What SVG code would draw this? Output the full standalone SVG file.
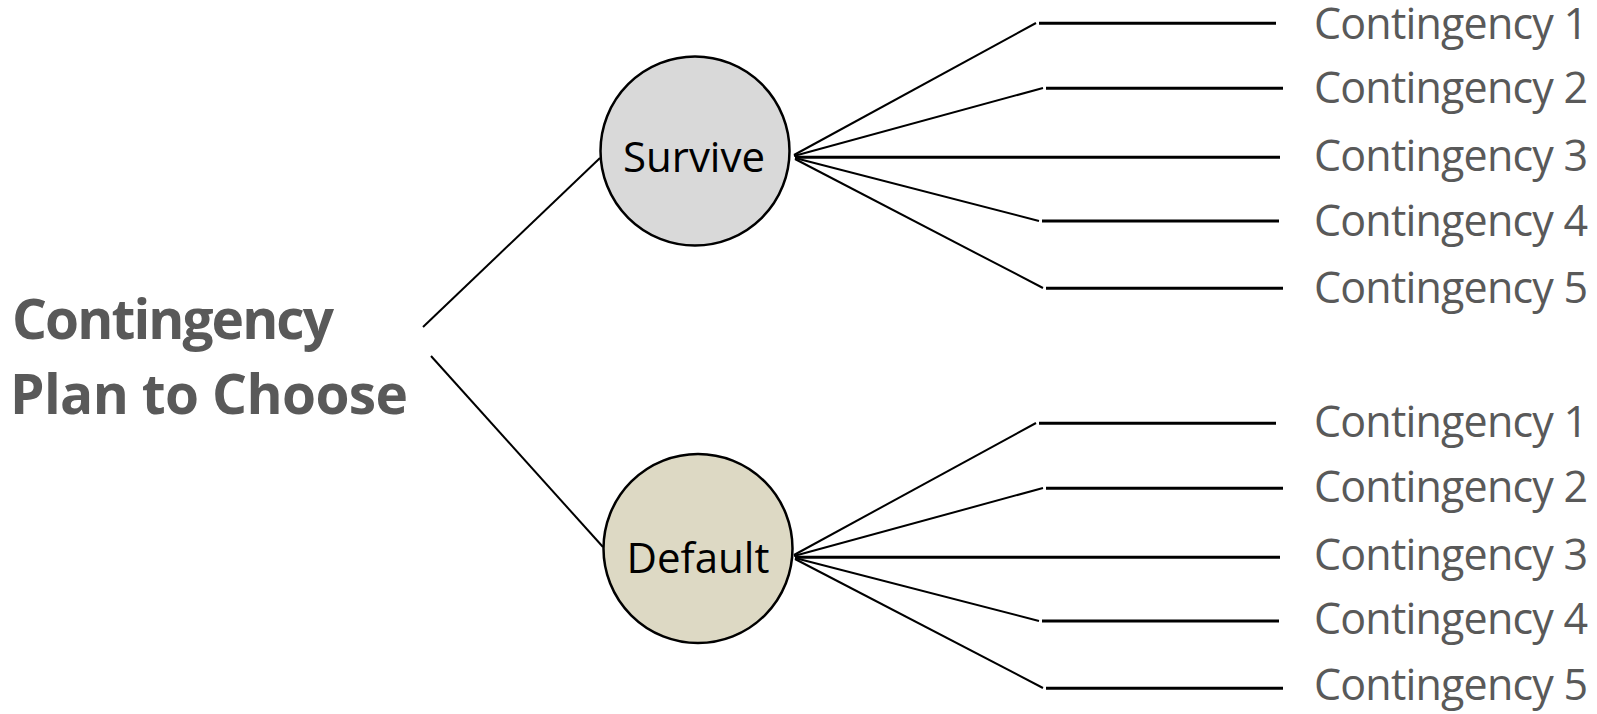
<svg xmlns="http://www.w3.org/2000/svg" width="1597" height="714" viewBox="0 0 1597 714">
<style>
.bg{fill:#ffffff}
.node{stroke:#000000;stroke-width:2.5}
.survive{fill:#D9D9D9}
.default{fill:#DDD9C4}
.ntext{font-family:"Open Sans","Noto Sans",sans-serif;font-size:42px;fill:#000000;text-anchor:middle}
.label{font-family:"Open Sans","Noto Sans",sans-serif;font-size:43px;fill:#595959}
.title{font-family:"Open Sans","Noto Sans",sans-serif;font-size:55px;font-weight:bold;fill:#595959}
.diag{stroke:#000000;stroke-width:2;fill:none}
.hor{stroke:#000000;stroke-width:3;fill:none}
</style>
<rect class="bg" x="0" y="0" width="1597" height="714"/>
<g id="connectors">
  <line class="diag" x1="423" y1="327" x2="600" y2="158"/>
  <line class="diag" x1="431" y1="356" x2="603" y2="547"/>
  <g id="survive-branches">
    <line class="diag" x1="794" y1="155" x2="1036" y2="23"/>
    <line class="diag" x1="794" y1="156" x2="1043" y2="88"/>
    <line class="diag" x1="795" y1="158" x2="1039" y2="221"/>
    <line class="diag" x1="795" y1="159" x2="1043" y2="288"/>
    <line class="hor" x1="1039" y1="23.3" x2="1276" y2="23.3"/>
    <line class="hor" x1="1046" y1="88.3" x2="1283" y2="88.3"/>
    <line class="hor" x1="795" y1="157.3" x2="1280" y2="157.3"/>
    <line class="hor" x1="1042" y1="221" x2="1279" y2="221"/>
    <line class="hor" x1="1046" y1="288.3" x2="1283" y2="288.3"/>
  </g>
  <g id="default-branches">
    <line class="diag" x1="794" y1="555" x2="1036" y2="423"/>
    <line class="diag" x1="794" y1="556" x2="1043" y2="488"/>
    <line class="diag" x1="795" y1="558" x2="1039" y2="621"/>
    <line class="diag" x1="795" y1="559" x2="1043" y2="688"/>
    <line class="hor" x1="1039" y1="423.3" x2="1276" y2="423.3"/>
    <line class="hor" x1="1046" y1="488.3" x2="1283" y2="488.3"/>
    <line class="hor" x1="795" y1="557.3" x2="1280" y2="557.3"/>
    <line class="hor" x1="1042" y1="621" x2="1279" y2="621"/>
    <line class="hor" x1="1046" y1="688.3" x2="1283" y2="688.3"/>
  </g>
</g>
<g id="title">
  <text class="title" x="12" y="339" textLength="322">Contingency</text>
  <text class="title" x="10" y="414" textLength="398">Plan to Choose</text>
</g>
<g id="node-survive">
  <circle class="node survive" cx="695" cy="151" r="94.5"/>
  <text class="ntext" x="694" y="172">Survive</text>
</g>
<g id="node-default">
  <circle class="node default" cx="698" cy="548.5" r="94.5"/>
  <text class="ntext" x="698" y="573">Default</text>
</g>
<g id="survive-labels">
  <text class="label" x="1314" y="39" textLength="274">Contingency 1</text>
  <text class="label" x="1314" y="103" textLength="274">Contingency 2</text>
  <text class="label" x="1314" y="171" textLength="274">Contingency 3</text>
  <text class="label" x="1314" y="236" textLength="274">Contingency 4</text>
  <text class="label" x="1314" y="303" textLength="274">Contingency 5</text>
</g>
<g id="default-labels">
  <text class="label" x="1314" y="437" textLength="274">Contingency 1</text>
  <text class="label" x="1314" y="502" textLength="274">Contingency 2</text>
  <text class="label" x="1314" y="570" textLength="274">Contingency 3</text>
  <text class="label" x="1314" y="634" textLength="274">Contingency 4</text>
  <text class="label" x="1314" y="700" textLength="274">Contingency 5</text>
</g>
</svg>
